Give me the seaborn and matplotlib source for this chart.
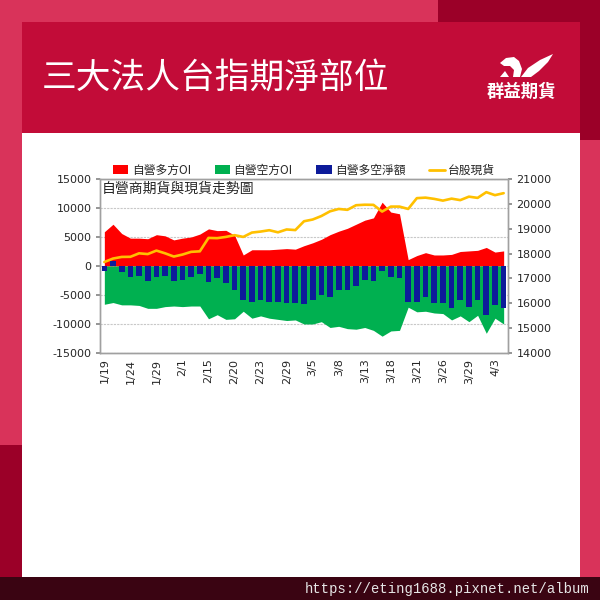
import numpy as np
import pandas as pd
import matplotlib
matplotlib.use('Agg')
import matplotlib.pyplot as plt
from matplotlib.patches import Rectangle, Polygon, Patch
from matplotlib.lines import Line2D
import seaborn as sns

# 資料
dates = ['1/19', '1/22', '1/23', '1/24', '1/25', '1/26', '1/29', '1/30', '1/31', '2/1',
         '2/2', '2/5', '2/15', '2/16', '2/19', '2/20', '2/21', '2/22', '2/23', '2/26',
         '2/27', '2/29', '3/1', '3/4', '3/5', '3/6', '3/7', '3/8', '3/11', '3/12',
         '3/13', '3/14', '3/15', '3/18', '3/19', '3/20', '3/21', '3/22', '3/25', '3/26',
         '3/27', '3/28', '3/29', '4/1', '4/2', '4/3', '4/8']
long_oi = [5900, 7200, 5600, 4800, 4800, 4700, 5400, 5200, 4500, 4800,
           5000, 5500, 6400, 6100, 6150, 5300, 1900, 2800, 2800, 2800,
           2900, 3000, 2900, 3500, 4000, 4600, 5400, 6000, 6500, 7200,
           7900, 8300, 11000, 9300, 9000, 1100, 1800, 2300, 1900, 1900,
           2000, 2500, 2600, 2700, 3200, 2400, 2600]
short_oi = [-6600, -6300, -6700, -6700, -6800, -7300, -7300, -7000, -6900, -7000,
            -6900, -6900, -9100, -8400, -9200, -9100, -7800, -9000, -8600, -9000,
            -9200, -9400, -9300, -10000, -10000, -9600, -10600, -10400, -10800, -10900,
            -10600, -11100, -12100, -11200, -11100, -7100, -7900, -7800, -8100, -8200,
            -9300, -8600, -9600, -8500, -11600, -9000, -10000]
net_oi = [-800, 800, -1100, -1900, -1700, -2600, -1900, -1700, -2500, -2400,
          -1900, -1400, -2700, -2100, -3000, -4100, -5900, -6200, -5800, -6200,
          -6200, -6300, -6300, -6500, -5900, -5000, -5300, -4100, -4100, -3500,
          -2400, -2500, -800, -1900, -2000, -6200, -6200, -5400, -6300, -6300,
          -7200, -5800, -7100, -5800, -8500, -6700, -7200]
taiex = [17660, 17800, 17865, 17870, 18010, 17980, 18120, 18010, 17880, 17960,
         18070, 18090, 18630, 18620, 18670, 18740, 18670, 18845, 18885, 18940,
         18855, 18970, 18945, 19300, 19370, 19510, 19700, 19795, 19760, 19945,
         19965, 19960, 19690, 19890, 19890, 19795, 20230, 20250, 20200, 20130,
         20210, 20150, 20290, 20240, 20470, 20350, 20430]

df = pd.DataFrame({'date': dates, 'long': long_oi, 'short': short_oi,
                   'net': net_oi, 'taiex': taiex})
df['pos'] = np.arange(len(df))

RED = '#ff0000'
GREEN = '#00b050'
BLUE = '#0d1b9a'
GOLD = '#ffc000'

sns.set_theme(style='white')
plt.rcParams['font.family'] = ['DejaVu Sans', 'Noto Sans CJK TC']
plt.rcParams['axes.unicode_minus'] = False

W = H = 600
fig = plt.figure(figsize=(6, 6), dpi=100)
fig.patch.set_facecolor('#d9335a')


def px_rect(x0, y0, x1, y1, color):
    # 以像素(由上往下)畫背景方塊
    fig.patches.append(Rectangle((x0 / W, 1 - y1 / H), (x1 - x0) / W, (y1 - y0) / H,
                                 transform=fig.transFigure, facecolor=color,
                                 edgecolor='none', zorder=-10))


px_rect(438, 0, 600, 22, '#9b0028')
px_rect(580, 0, 600, 140, '#9b0028')
px_rect(0, 445, 22, 577, '#9b0028')
px_rect(22, 22, 580, 133, '#c20c38')
px_rect(22, 133, 580, 577, 'white')
px_rect(0, 577, 600, 600, '#3a0412')

fig.text(42 / W, 1 - 78 / H, '三大法人台指期淨部位', color='white', fontsize=25,
         va='center', ha='left', family=['Noto Sans CJK TC', 'DejaVu Sans'])
fig.text(521 / W, 1 - 92 / H, '群益期貨', color='white', fontsize=12.5, fontweight='bold',
         va='center', ha='center', family=['Noto Sans CJK TC', 'DejaVu Sans'])

# logo 小鳥 (裝飾)
bird_head = [(500, 63), (506, 58), (514, 57), (519, 61), (522, 69), (520, 77),
             (513, 77), (514, 70), (510, 66), (504, 66)]
bird_wing = [(521, 77), (528, 68), (540, 60), (553, 54), (548, 62), (539, 71), (531, 77)]
bird_foot = [(500, 77), (505, 71), (509, 77)]
for shape in (bird_head, bird_wing, bird_foot):
    fig.patches.append(Polygon([(x / W, 1 - y / H) for x, y in shape], closed=True,
                               transform=fig.transFigure, facecolor='white',
                               edgecolor='none', zorder=5))

fig.text(590 / W, 1 - 589 / H, 'https://eting1688.pixnet.net/album', color='#e6e6e6',
         fontsize=10, ha='right', va='center', family='Liberation Mono')

# 圖表
ax = fig.add_axes([100 / W, 1 - 353 / H, 408 / W, 174 / H])
ax.set_facecolor('white')
ax.set_axisbelow(True)
ax.grid(axis='y', color='#c8c8c8', linestyle=(0, (2, 1)), linewidth=0.8)

ax.fill_between(df['pos'], 0, df['long'], color=RED, linewidth=0, zorder=1)
ax.fill_between(df['pos'], 0, df['short'], color=GREEN, linewidth=0, zorder=1)
sns.barplot(data=df, x='date', y='net', color=BLUE, saturation=1, width=0.65,
            linewidth=0, edgecolor=BLUE, ax=ax, zorder=2)

ax.set_ylim(-15000, 15000)
ax.set_yticks(np.arange(-15000, 15001, 5000))
ax.set_xlim(-0.5, len(df) - 0.5)
ax.set_xticks(df['pos'][::3])
ax.set_xticklabels(df['date'][::3], rotation=90, fontsize=8)
ax.set_xlabel('')
ax.set_ylabel('')
ax.tick_params(axis='y', labelsize=8, length=3, pad=3, left=True, color='#888888')
ax.tick_params(axis='x', length=0, pad=4)

ax2 = ax.twinx()
sns.lineplot(data=df, x='pos', y='taiex', color=GOLD, linewidth=1.9, ax=ax2)
ax2.set_ylim(14000, 21000)
ax2.set_yticks(np.arange(14000, 21001, 1000))
ax2.set_xlim(-0.5, len(df) - 0.5)
ax2.set_ylabel('')
ax2.set_xlabel('')
ax2.grid(False)
ax2.tick_params(axis='y', labelsize=8, length=3, pad=3, right=True, color='#888888')

for a in (ax, ax2):
    for sp in a.spines.values():
        sp.set_color('#a0a0a0')
        sp.set_linewidth(1)

ax.text(0.004, 0.985, '自營商期貨與現貨走勢圖', transform=ax.transAxes, va='top', ha='left',
        fontsize=10, family=['Noto Sans CJK TC', 'DejaVu Sans'], zorder=5)

handles = [Patch(facecolor=RED, edgecolor='none'),
           Patch(facecolor=GREEN, edgecolor='none'),
           Patch(facecolor=BLUE, edgecolor='none'),
           Line2D([0], [0], color=GOLD, linewidth=2)]
labels = ['自營多方OI', '自營空方OI', '自營多空淨額', '台股現貨']
leg = ax2.legend(handles, labels, loc='lower center', bbox_to_anchor=(0.5, 1.0), ncol=4,
                 frameon=False, handlelength=1.3, handleheight=0.7,
                 handletextpad=0.3, columnspacing=2.0, borderaxespad=0.1, borderpad=0.1,
                 prop={'family': ['Noto Sans CJK TC', 'DejaVu Sans'], 'size': 8.5})

fig.savefig('out.png', dpi=100, facecolor=fig.get_facecolor())
